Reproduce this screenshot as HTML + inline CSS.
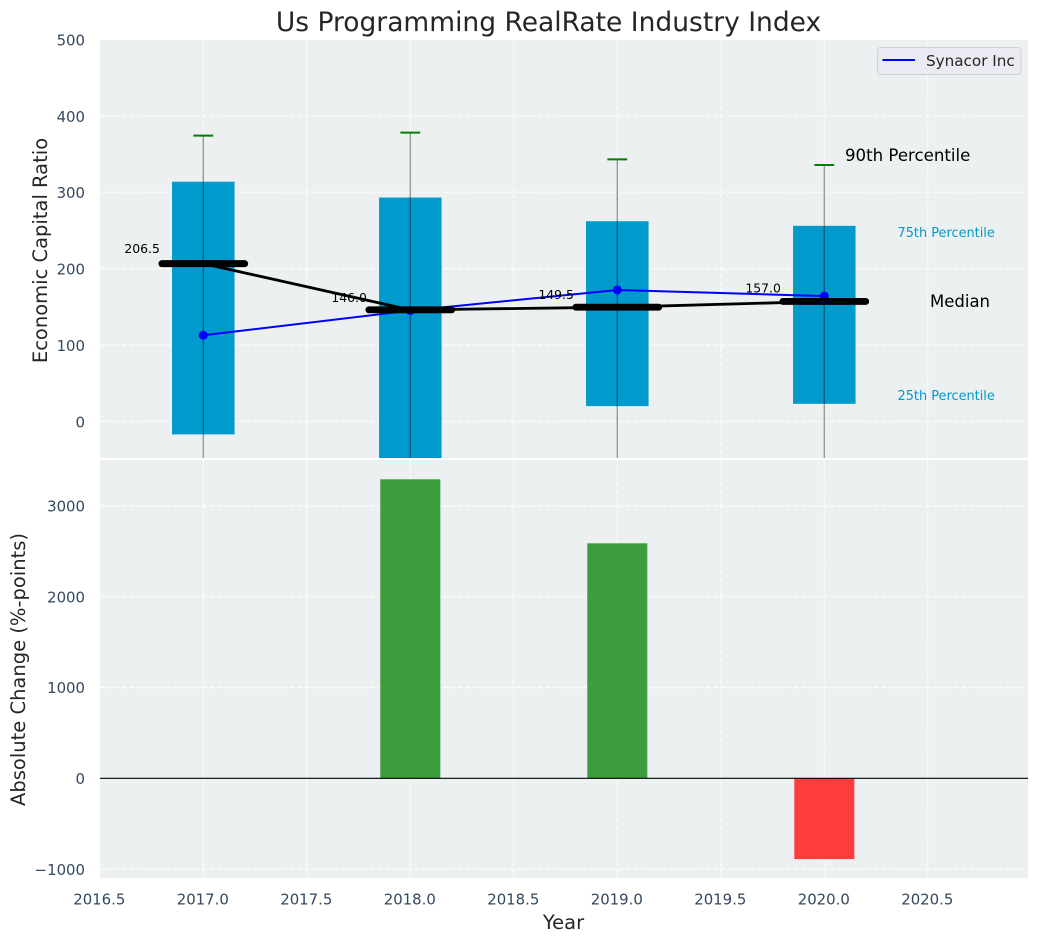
<!DOCTYPE html>
<html>
<head>
<meta charset="utf-8">
<title>Us Programming RealRate Industry Index</title>
<style>
html,body{margin:0;padding:0;background:#fff;}
svg{display:block;font-family:"DejaVu Sans","Liberation Sans",sans-serif;}
</style>
</head>
<body>
<svg id="chart" width="1039" height="942" viewBox="0 0 1039 942" xmlns="http://www.w3.org/2000/svg">
  <defs>
    <clipPath id="clip-top"><rect x="100" y="40" width="928" height="418"/></clipPath>
    <clipPath id="clip-bottom"><rect x="100" y="460" width="928" height="418"/></clipPath>
  </defs>
  <rect x="100" y="40" width="928" height="418" fill="#ecf0f1"/>
  <rect x="100" y="460" width="928" height="418" fill="#ecf0f1"/>
  <g id="grid-top" clip-path="url(#clip-top)"></g>
  <g id="grid-bottom" clip-path="url(#clip-bottom)"></g>
  <g id="marks-top" clip-path="url(#clip-top)"></g>
  <g id="marks-bottom" clip-path="url(#clip-bottom)"></g>
  <g id="labels"></g>
  <text x="548.5" y="31" font-size="26.5" text-anchor="middle" fill="#262626">Us Programming RealRate Industry Index</text>
  <text transform="translate(47,250.5) rotate(-90)" font-size="19.5" text-anchor="middle" fill="#262626">Economic Capital Ratio</text>
  <text transform="translate(25,669.5) rotate(-90)" font-size="19.5" text-anchor="middle" fill="#262626">Absolute Change (%-points)</text>
  <text x="563.5" y="929" font-size="19.5" text-anchor="middle" fill="#262626">Year</text>
  <text x="845" y="161" font-size="16.6" fill="#000">90th Percentile</text>
  <text x="897.5" y="237" font-size="12.9" fill="#009ACD">75th Percentile</text>
  <text x="930" y="307" font-size="16.5" fill="#000">Median</text>
  <text x="897.5" y="400" font-size="12.9" fill="#009ACD">25th Percentile</text>
  <g>
    <rect x="877.5" y="47.5" width="143.5" height="27" rx="3" fill="#eaeaf2" stroke="#cfcfd4" stroke-width="1"/>
    <line x1="882.5" y1="60" x2="915" y2="60" stroke="#0000ff" stroke-width="2"/>
    <text x="926" y="66" font-size="15.2" fill="#262626">Synacor Inc</text>
  </g>
<script>
// ---- Data ----
const years = [2017, 2018, 2019, 2020];
const p90 = [374, 378, 343, 335.6];
const p75 = [313.7, 293, 262, 256];
const medians = [206.5, 146.0, 149.5, 157.0];
const p25 = [-17, -60, 20, 23];
const p10 = [-110, -120, -100, -100];
const company = [112.7, 145, 172, 164];
const medianLabelValues = [225.4, 161.4, 165.4, 173.4];
const changes = [null, 3293, 2588, -890];
const xTicks = [2016.5, 2017, 2017.5, 2018, 2018.5, 2019, 2019.5, 2020, 2020.5];
const topYTicks = [0, 100, 200, 300, 400, 500];
const bottomYTicks = [-1000, 0, 1000, 2000, 3000];

// ---- Axis functions ----
const xScale = v => 99.8 + (v - 2016.5) * 207;
const yTop = v => 421.4 - v * 0.764;
const yBottom = v => 778.3 - v * 0.0908;

const NS = 'http://www.w3.org/2000/svg';
const gridTop = document.getElementById('grid-top');
const gridBottom = document.getElementById('grid-bottom');
const marksTop = document.getElementById('marks-top');
const marksBottom = document.getElementById('marks-bottom');
const labels = document.getElementById('labels');

function line(parent, x1, y1, x2, y2, stroke, width) {
  const el = document.createElementNS(NS, 'line');
  el.setAttribute('x1', x1);
  el.setAttribute('y1', y1);
  el.setAttribute('x2', x2);
  el.setAttribute('y2', y2);
  el.setAttribute('stroke', stroke);
  el.setAttribute('stroke-width', width);
  parent.appendChild(el);
  return el;
}
function text(parent, x, y, str, size, fill, anchor) {
  const el = document.createElementNS(NS, 'text');
  el.setAttribute('x', x);
  el.setAttribute('y', y);
  el.setAttribute('font-size', size);
  el.setAttribute('fill', fill);
  el.setAttribute('text-anchor', anchor);
  el.textContent = str;
  parent.appendChild(el);
  return el;
}
function rect(parent, x, y, w, h, fill) {
  const el = document.createElementNS(NS, 'rect');
  el.setAttribute('x', x);
  el.setAttribute('y', y);
  el.setAttribute('width', w);
  el.setAttribute('height', h);
  el.setAttribute('fill', fill);
  parent.appendChild(el);
  return el;
}
function polyline(parent, xs, ys, stroke, width) {
  const el = document.createElementNS(NS, 'polyline');
  el.setAttribute('points', xs.map((x, i) => xScale(x) + ',' + ys[i]).join(' '));
  el.setAttribute('fill', 'none');
  el.setAttribute('stroke', stroke);
  el.setAttribute('stroke-width', width);
  parent.appendChild(el);
  return el;
}
function dashed(el) {
  el.setAttribute('stroke-dasharray', '5.1 2.2');
  el.setAttribute('stroke-opacity', '0.85');
  return el;
}

// ---- Grid and tick labels ----
xTicks.forEach(t => {
  const a = dashed(line(gridTop, xScale(t), 40, xScale(t), 458, '#ffffff', 1.2));
  
  
  const b = dashed(line(gridBottom, xScale(t), 460, xScale(t), 878, '#ffffff', 1.2));
  
  
  const lab = text(labels, xScale(t) - 0.5, 904.5, t.toFixed(1), 14.9, '#34495e', 'middle');
  
  
});
topYTicks.forEach(t => {
  const g = dashed(line(gridTop, 100, yTop(t), 1028, yTop(t), '#ffffff', 1.2));
  
  
  const lab = text(labels, 85, yTop(t) + 6, String(t), 14.9, '#34495e', 'end');
  
  
});
bottomYTicks.forEach(t => {
  const g = dashed(line(gridBottom, 100, yBottom(t), 1028, yBottom(t), '#ffffff', 1.2));
  
  
  const str = t < 0 ? '\u2212' + Math.abs(t) : String(t);
  const lab = text(labels, 85, yBottom(t) + 5.7, str, 14.9, '#34495e', 'end');
  
  
});

// ---- Top panel marks ----
const boxHalf = 0.151;
const medianHalf = 0.2;
const capHalf = 0.048;
years.forEach((yr, i) => {
  const x0 = xScale(yr - boxHalf);
  const x1 = xScale(yr + boxHalf);
  const box = rect(marksTop, x0, yTop(p75[i]), x1 - x0, yTop(p25[i]) - yTop(p75[i]), '#009ACD');
  
  
});
const medianLine = polyline(marksTop, years, medians.map(yTop), '#000000', 2.8);


years.forEach((yr, i) => {
  const w = line(marksTop, xScale(yr), yTop(p90[i]), xScale(yr), yTop(p10[i]), '#000000', 1.4);
  w.setAttribute('stroke-opacity', '0.38');
  
  
  const c = line(marksTop, xScale(yr - capHalf), yTop(p90[i]), xScale(yr + capHalf), yTop(p90[i]), '#008000', 2);
  
  
});
const companyLine = polyline(marksTop, years, company.map(yTop), '#0000ff', 2);


years.forEach((yr, i) => {
  const dot = document.createElementNS(NS, 'circle');
  dot.setAttribute('cx', xScale(yr));
  dot.setAttribute('cy', yTop(company[i]));
  dot.setAttribute('r', 4.5);
  dot.setAttribute('fill', '#0000ff');
  
  
  marksTop.appendChild(dot);
});
years.forEach((yr, i) => {
  const m = line(marksTop, xScale(yr - medianHalf), yTop(medians[i]), xScale(yr + medianHalf), yTop(medians[i]), '#000000', 6.9);
  m.setAttribute('stroke-linecap', 'round');
  
  
  const lab = text(marksTop, xScale(yr - medianHalf) - 2, yTop(medianLabelValues[i]) + 3.8, medians[i].toFixed(1), 12.4, '#000000', 'end');
  
  
});

// ---- Bottom panel marks ----
const changeHalf = 0.145;
years.forEach((yr, i) => {
  if (changes[i] === null) return;
  const x0 = xScale(yr - changeHalf);
  const x1 = xScale(yr + changeHalf);
  const top = Math.min(yBottom(changes[i]), yBottom(0));
  const h = Math.abs(yBottom(changes[i]) - yBottom(0));
  const bar = rect(marksBottom, x0, top, x1 - x0, h, changes[i] >= 0 ? '#3c9c3e' : '#ff3c3c');
  
  
});
const zero = line(marksBottom, 100, yBottom(0), 1028, yBottom(0), '#000000', 1.2);


</script>
</svg>
</body>
</html>
